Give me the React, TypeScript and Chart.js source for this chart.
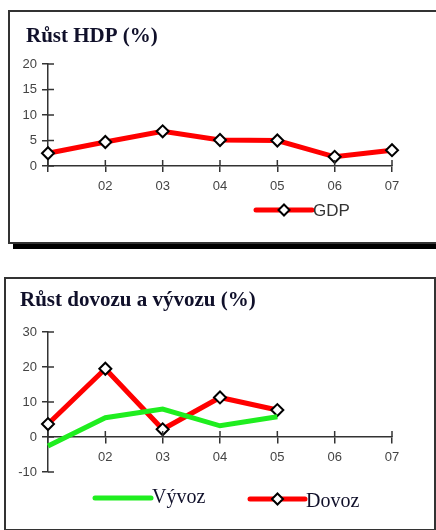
import React, { useEffect, useRef } from "react";
import { Chart, registerables } from "chart.js";

Chart.register(...registerables);

// ---- data ----
const years = ["", "02", "03", "04", "05", "06", "07"];
const gdpValues = [2.5, 4.7, 6.8, 5.1, 5.0, 1.8, 3.1];
const gdpTicks = [0, 5, 10, 15, 20];
const exportValues = [-2.6, 5.5, 8.0, 3.2, 5.8, null, null];
const importValues = [3.7, 19.5, 2.2, 11.3, 7.7, null, null];
const tradeTicks = [-10, 0, 10, 20, 30];
const gdpTitle = "Růst HDP (%)";
const tradeTitle = "Růst dovozu a vývozu (%)";

const RED = "#ff0000";
const GREEN = "#1fee1f";
const AXIS = "#333333";
const TICKTXT = "#444444";
const TITLE = "#10102a";

function drawDiamond(ctx: CanvasRenderingContext2D, x: number, y: number, r: number) {
  ctx.save();
  ctx.beginPath();
  ctx.moveTo(x, y - r);
  ctx.lineTo(x + r, y);
  ctx.lineTo(x, y + r);
  ctx.lineTo(x - r, y);
  ctx.closePath();
  ctx.fillStyle = "#ffffff";
  ctx.fill();
  ctx.lineWidth = 2;
  ctx.strokeStyle = "#000000";
  ctx.stroke();
  ctx.restore();
}

// draws inner half of tick marks, title and legend
const decorPlugin = {
  id: "decor",
  afterDraw(chart: any, _args: any, opts: any) {
    const ctx: CanvasRenderingContext2D = chart.ctx;
    const xs = chart.scales.x;
    const ys = chart.scales.y;
    const area = chart.chartArea;
    ctx.save();
    ctx.strokeStyle = AXIS;
    ctx.lineWidth = 1.5;
    ys.ticks.forEach((t: any) => {
      const py = ys.getPixelForValue(t.value);
      ctx.beginPath();
      ctx.moveTo(area.left, py);
      ctx.lineTo(area.left + 6, py);
      ctx.stroke();
    });
    const axisY = ys.getPixelForValue(opts.xAxisAt);
    xs.ticks.forEach((_t: any, i: number) => {
      const px = xs.getPixelForTick(i);
      ctx.beginPath();
      ctx.moveTo(px, axisY);
      ctx.lineTo(px, axisY - 6);
      ctx.stroke();
    });
    // title
    ctx.fillStyle = TITLE;
    ctx.font = "bold 21px 'Liberation Serif', 'Times New Roman', serif";
    ctx.textBaseline = "alphabetic";
    ctx.textAlign = "left";
    ctx.fillText(opts.title, opts.titleX, opts.titleY);
    // legend
    opts.legend.forEach((item: any, i: number) => {
      const ds = chart.data.datasets[i];
      ctx.save();
      ctx.strokeStyle = ds.borderColor;
      ctx.lineWidth = 5;
      ctx.lineCap = "round";
      ctx.beginPath();
      ctx.moveTo(item.x1, item.y);
      ctx.lineTo(item.x2, item.y);
      ctx.stroke();
      ctx.restore();
      if (ds.pointRadius > 0) {
        drawDiamond(ctx, (item.x1 + item.x2) / 2, item.y, 5.5);
      }
      ctx.fillStyle = item.color;
      ctx.font = item.font;
      ctx.textBaseline = "alphabetic";
      ctx.fillText(ds.label, item.x2 + 1, item.textY);
    });
    ctx.restore();
  },
};

function makeOptions(ticks: number[], min: number, max: number, padding: any, xPos: any, xHeight: number | null, decor: any) {
  return {
    animation: false,
    responsive: false,
    maintainAspectRatio: false,
    layout: { padding },
    plugins: {
      legend: { display: false },
      title: { display: false },
      tooltip: { enabled: false },
      decor,
    },
    scales: {
      x: {
        type: "category",
        position: xPos,
        offset: false,
        grid: { drawOnChartArea: false, drawTicks: true, tickLength: 6, color: AXIS, lineWidth: 1.5 },
        border: { display: true, color: AXIS, width: 1.5 },
        ticks: {
          color: TICKTXT,
          font: { family: "'Liberation Sans', Arial, sans-serif", size: 13 },
          padding: 7,
          maxRotation: 0,
          autoSkip: false,
        },
        afterFit: (s: any) => {
          if (xHeight !== null) s.height = xHeight;
        },
      },
      y: {
        type: "linear",
        min,
        max,
        grid: { drawOnChartArea: false, drawTicks: true, tickLength: 6, color: AXIS, lineWidth: 1.5 },
        border: { display: true, color: AXIS, width: 1.5 },
        ticks: {
          color: TICKTXT,
          font: { family: "'Liberation Sans', Arial, sans-serif", size: 13 },
          padding: 5,
        },
        afterBuildTicks: (s: any) => {
          s.ticks = ticks.map((v) => ({ value: v }));
        },
        afterFit: (s: any) => {
          s.width = 48;
        },
      },
    },
  };
}

const pointStyleProps = {
  pointStyle: "rectRot",
  pointRadius: 6,
  pointBackgroundColor: "#ffffff",
  pointBorderColor: "#000000",
  pointBorderWidth: 2,
};

export default function App() {
  const ref1 = useRef<HTMLCanvasElement>(null);
  const ref2 = useRef<HTMLCanvasElement>(null);

  useEffect(() => {
    const c1 = new Chart(ref1.current as HTMLCanvasElement, {
      type: "line",
      data: {
        labels: years,
        datasets: [
          {
            label: "GDP",
            data: gdpValues,
            borderColor: RED,
            borderWidth: 5,
            tension: 0,
            ...pointStyleProps,
          } as any,
        ],
      },
      options: makeOptions(gdpTicks, 0, 20, { left: 0, right: 44, top: 64, bottom: 0 }, "bottom", 94, {
        xAxisAt: 0,
        title: gdpTitle,
        titleX: 26,
        titleY: 42,
        legend: [
          { x1: 256, x2: 312, y: 210, textY: 216, color: "#333333", font: "17px 'Liberation Sans', Arial, sans-serif" },
        ],
      }) as any,
      plugins: [decorPlugin],
    });

    const c2 = new Chart(ref2.current as HTMLCanvasElement, {
      type: "line",
      data: {
        labels: years,
        datasets: [
          {
            label: "Vývoz",
            data: exportValues,
            borderColor: GREEN,
            borderWidth: 5,
            tension: 0,
            pointRadius: 0,
            spanGaps: false,
          } as any,
          {
            label: "Dovoz",
            data: importValues,
            borderColor: RED,
            borderWidth: 5,
            tension: 0,
            spanGaps: false,
            ...pointStyleProps,
          } as any,
        ],
      },
      options: makeOptions(tradeTicks, -10, 30, { left: 0, right: 44, top: 72, bottom: 58 }, { y: 0 }, null, {
        xAxisAt: 0,
        title: tradeTitle,
        titleX: 20,
        titleY: 46,
        legend: [
          { x1: 95, x2: 151, y: 238, textY: 243, color: "#10102a", font: "20px 'Liberation Serif', 'Times New Roman', serif" },
          { x1: 250, x2: 305, y: 239, textY: 247, color: "#10102a", font: "20px 'Liberation Serif', 'Times New Roman', serif" },
        ],
      }) as any,
      plugins: [decorPlugin],
    });

    return () => {
      c1.destroy();
      c2.destroy();
    };
  }, []);

  return (
    <div style={{ position: "fixed", left: 0, top: 0, width: 436, height: 530, overflow: "hidden", background: "#fff" }}>
      <div
        style={{
          position: "absolute",
          left: 8,
          top: 10,
          width: 440,
          height: 230,
          border: "2px solid #333",
          boxShadow: "5px 5px 0 #000",
          boxSizing: "content-box",
        }}
      />
      <div
        style={{
          position: "absolute",
          left: 4,
          top: 277,
          width: 428,
          height: 250,
          border: "2px solid #333",
          boxSizing: "content-box",
        }}
      />
      <canvas ref={ref1} width={436} height={260} style={{ position: "absolute", left: 0, top: 0, width: 436, height: 260 }} />
      <canvas ref={ref2} width={436} height={270} style={{ position: "absolute", left: 0, top: 260, width: 436, height: 270 }} />
    </div>
  );
}
